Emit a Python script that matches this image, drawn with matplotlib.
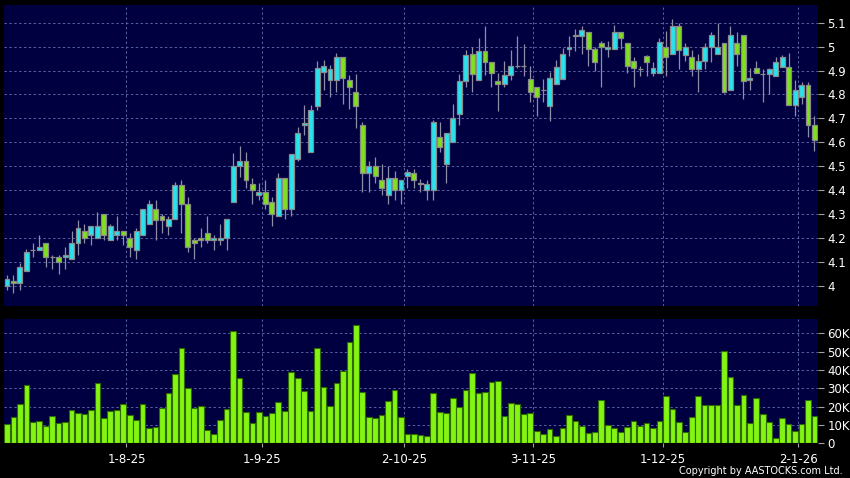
import matplotlib
matplotlib.use("Agg")
import matplotlib.pyplot as plt
import numpy as np

# daily OHLC
opens = [4.00, 4.02, 4.01, 4.06, 4.15, 4.15, 4.18, 4.12, 4.12, 4.12,
         4.11, 4.18, 4.23, 4.21, 4.20, 4.30, 4.19, 4.21, 4.23, 4.20,
         4.15, 4.21, 4.26, 4.32, 4.29, 4.25, 4.28, 4.42, 4.34, 4.19,
         4.20, 4.22, 4.19, 4.19, 4.20, 4.35, 4.50, 4.52, 4.425, 4.38,
         4.39, 4.35, 4.29, 4.45, 4.32, 4.53, 4.67, 4.56, 4.75, 4.895,
         4.86, 4.86, 4.955, 4.86, 4.81, 4.67, 4.47, 4.50, 4.44, 4.38,
         4.45, 4.40, 4.46, 4.47, 4.43, 4.40, 4.40, 4.62, 4.51, 4.60,
         4.72, 4.855, 4.97, 4.86, 4.98, 4.935, 4.855, 4.845, 4.88, 4.92,
         4.92, 4.865, 4.83, 4.82, 4.75, 4.845, 4.865, 4.99, 5.05, 5.045,
         5.06, 4.99, 5.015, 4.99, 4.99, 5.06, 5.015, 4.94, 4.905, 4.96,
         4.89, 4.89, 5.00, 4.97, 5.085, 4.965, 4.955, 4.905, 4.94, 5.00,
         4.97, 5.015, 4.82, 5.015, 5.05, 4.86, 4.91, 4.885, 4.885, 4.875,
         4.915, 4.915, 4.755, 4.79, 4.84, 4.67]
highs = [4.045, 4.043, 4.093, 4.155, 4.18, 4.21, 4.18, 4.13, 4.13, 4.16,
         4.23, 4.275, 4.26, 4.25, 4.31, 4.30, 4.26, 4.29, 4.23, 4.22,
         4.24, 4.32, 4.36, 4.36, 4.30, 4.29, 4.435, 4.44, 4.37, 4.20,
         4.24, 4.29, 4.21, 4.26, 4.28, 4.555, 4.585, 4.56, 4.45, 4.43,
         4.44, 4.37, 4.47, 4.45, 4.55, 4.665, 4.755, 4.755, 4.94, 4.945,
         4.925, 4.975, 4.955, 4.88, 4.885, 4.685, 4.52, 4.54, 4.51, 4.50,
         4.48, 4.44, 4.49, 4.49, 4.445, 4.44, 4.695, 4.685, 4.64, 4.76,
         4.885, 4.985, 5.00, 5.035, 5.085, 4.935, 4.89, 4.94, 4.985, 5.045,
         5.01, 4.92, 4.83, 4.865, 4.895, 4.945, 4.995, 5.045, 5.075, 5.085,
         5.06, 5.00, 5.025, 5.025, 5.09, 5.06, 5.015, 4.955, 4.92, 4.965,
         4.935, 5.035, 5.065, 5.115, 5.10, 5.015, 4.985, 4.97, 5.015, 5.06,
         5.10, 5.015, 5.085, 5.06, 5.05, 4.91, 4.94, 4.905, 4.91, 4.955,
         4.965, 4.975, 4.86, 4.85, 4.85, 4.71]
lows = [3.98, 3.97, 3.98, 4.06, 4.12, 4.15, 4.08, 4.07, 4.05, 4.07,
        4.11, 4.13, 4.18, 4.17, 4.20, 4.19, 4.19, 4.19, 4.17, 4.12,
        4.11, 4.21, 4.26, 4.19, 4.22, 4.21, 4.28, 4.22, 4.14, 4.11,
        4.16, 4.18, 4.15, 4.17, 4.15, 4.35, 4.455, 4.41, 4.34, 4.36,
        4.32, 4.25, 4.29, 4.28, 4.29, 4.52, 4.63, 4.56, 4.735, 4.82,
        4.79, 4.81, 4.76, 4.74, 4.66, 4.39, 4.39, 4.43, 4.38, 4.34,
        4.36, 4.34, 4.41, 4.41, 4.39, 4.36, 4.36, 4.56, 4.43, 4.60,
        4.67, 4.83, 4.81, 4.86, 4.88, 4.83, 4.73, 4.83, 4.86, 4.91,
        4.875, 4.77, 4.71, 4.77, 4.69, 4.845, 4.865, 4.96, 4.98, 4.97,
        4.92, 4.90, 4.83, 4.955, 4.99, 4.99, 4.89, 4.83, 4.875, 4.875,
        4.875, 4.89, 4.875, 4.97, 4.905, 4.94, 4.875, 4.81, 4.905, 4.935,
        4.97, 4.805, 4.82, 4.92, 4.78, 4.82, 4.89, 4.77, 4.80, 4.875,
        4.915, 4.755, 4.71, 4.76, 4.62, 4.565]
closes = [4.03, 4.01, 4.08, 4.14, 4.15, 4.16, 4.12, 4.12, 4.10, 4.13,
          4.18, 4.24, 4.20, 4.25, 4.25, 4.21, 4.25, 4.23, 4.21, 4.16,
          4.23, 4.32, 4.34, 4.275, 4.275, 4.28, 4.42, 4.34, 4.16, 4.18,
          4.19, 4.19, 4.20, 4.20, 4.28, 4.50, 4.52, 4.44, 4.40, 4.39,
          4.34, 4.30, 4.45, 4.32, 4.55, 4.64, 4.68, 4.735, 4.91, 4.92,
          4.905, 4.955, 4.87, 4.83, 4.75, 4.47, 4.50, 4.46, 4.41, 4.45,
          4.40, 4.44, 4.475, 4.44, 4.425, 4.425, 4.685, 4.58, 4.64, 4.70,
          4.855, 4.965, 4.885, 4.98, 4.935, 4.89, 4.845, 4.88, 4.92, 4.92,
          4.92, 4.81, 4.79, 4.82, 4.87, 4.915, 4.97, 5.00, 5.045, 5.07,
          4.99, 4.935, 5.00, 5.00, 5.06, 5.035, 4.92, 4.91, 4.905, 4.935,
          4.91, 5.02, 4.955, 5.085, 4.985, 5.00, 4.905, 4.94, 5.00, 5.05,
          5.00, 4.81, 5.05, 4.97, 4.855, 4.87, 4.89, 4.885, 4.905, 4.935,
          4.955, 4.755, 4.82, 4.84, 4.67, 4.61]
# volume in thousands
volumes = [10.5, 14.4, 21.3, 31.8, 11.6, 12.2, 9.5, 15.1, 11.1, 11.6,
           18.4, 16.5, 16.0, 18.2, 33.1, 13.6, 17.8, 18.0, 21.3, 15.5,
           12.7, 21.3, 8.5, 8.9, 19.5, 27.5, 37.6, 52.0, 30.0, 19.3,
           20.2, 7.5, 4.9, 12.7, 18.7, 61.1, 35.8, 16.9, 11.1, 16.9,
           14.7, 16.5, 22.5, 17.5, 38.9, 35.5, 28.5, 17.5, 51.8, 30.9,
           20.5, 32.7, 39.3, 55.5, 64.5, 28.2, 14.5, 14.0, 15.3, 23.3,
           28.9, 14.4, 4.9, 4.9, 4.7, 4.2, 27.6, 17.1, 16.4, 24.5,
           19.6, 29.1, 38.4, 27.5, 27.8, 33.3, 34.0, 14.9, 22.0, 21.5,
           15.8, 16.7, 6.9, 4.9, 8.0, 4.2, 8.4, 15.6, 12.4, 9.6,
           5.6, 6.0, 23.5, 10.2, 8.4, 6.4, 8.7, 12.2, 9.3, 10.9,
           8.4, 12.4, 26.0, 18.5, 11.6, 6.0, 14.5, 26.0, 20.9, 21.1,
           20.9, 50.4, 36.2, 20.9, 26.5, 10.9, 24.7, 15.8, 11.6, 2.9,
           14.0, 10.5, 6.9, 10.4, 23.5, 15.1]

date_ticks = [18.5, 39.5, 61.5, 81.5, 101.5, 122.5]
date_labels = ["1-8-25", "1-9-25", "2-10-25", "3-11-25", "1-12-25", "2-1-26"]
price_ticks = [4.0, 4.1, 4.2, 4.3, 4.4, 4.5, 4.6, 4.7, 4.8, 4.9, 5.0, 5.1]
price_labels = ["4", "4.1", "4.2", "4.3", "4.4", "4.5", "4.6", "4.7", "4.8", "4.9", "5", "5.1"]
vol_ticks = [0, 10, 20, 30, 40, 50, 60]
vol_labels = ["0", "10K", "20K", "30K", "40K", "50K", "60K"]

navy = "#000040"
gridc = "#5662a2"
up_c = "#27e3ef"
dn_c = "#7fe01c"

o = np.array(opens); h = np.array(highs); l = np.array(lows); c = np.array(closes)
x = np.arange(len(o))

fig = plt.figure(figsize=(8.5, 4.78), dpi=100, facecolor="black")
ax = fig.add_axes([4/850, 1-306/478, 813.7/850, 301/478])
axv = fig.add_axes([4/850, 1-443.3/478, 813.7/850, 124.3/478], sharex=ax)

for a in (ax, axv):
    a.set_facecolor(navy)
    for s in a.spines.values():
        s.set_visible(False)
    a.grid(True, color=gridc, linestyle=(0, (2.5, 2.5)), linewidth=0.7)
    a.set_axisbelow(True)
    a.yaxis.tick_right()
    a.tick_params(axis="y", colors="#a0a0a0", labelcolor="white", labelsize=8.5,
                  length=4, width=0.8, pad=3)

# candles
cols = np.where(c >= o, up_c, dn_c)
ax.vlines(x, l, h, color="#8e8ea6", linewidth=0.9, zorder=2)
ax.bar(x, c - o, bottom=o, width=0.76, color=cols, edgecolor="#8a8a8a",
       linewidth=0.9, zorder=3)
ax.set_ylim(3.915, 5.174)
ax.set_yticks(price_ticks)
ax.set_yticklabels(price_labels)
ax.tick_params(axis="x", bottom=False, labelbottom=False)

# volume
axv.bar(x, volumes, width=0.88, color="#84f412", edgecolor="#2f6a00",
        linewidth=0.8, zorder=3)
axv.set_ylim(0, 67.8)
axv.set_yticks(vol_ticks)
axv.set_yticklabels(vol_labels)
axv.set_xticks(date_ticks)
axv.set_xticklabels(date_labels)
axv.tick_params(axis="x", colors="#a0a0a0", labelcolor="white", labelsize=8.5,
                length=3, width=0.8, pad=4)
axv.set_xlim(-0.46, 125.5)

fig.text(843/850, 1-471/478, "Copyright by AASTOCKS.com Ltd.", color="white",
         fontsize=7.0, ha="right", va="center")

fig.savefig("out.png", dpi=100, facecolor="black")
